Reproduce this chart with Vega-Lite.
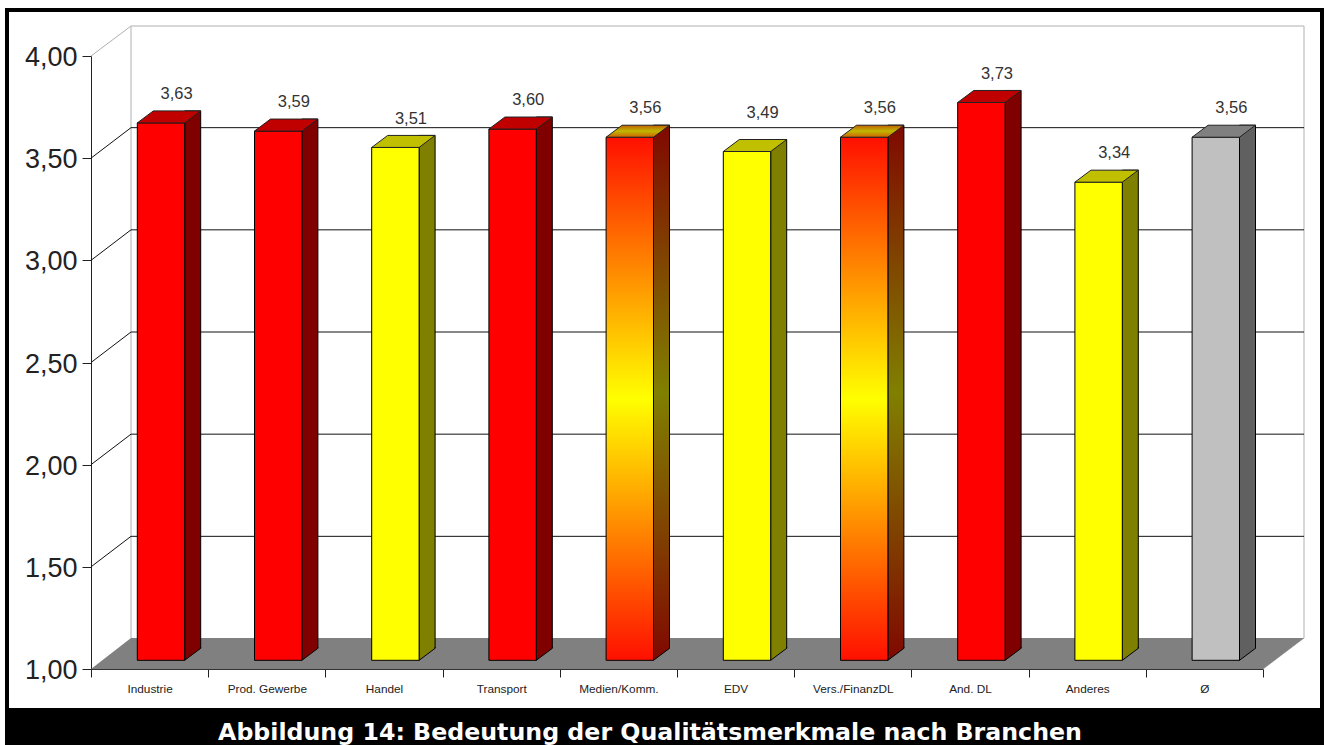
{
"$schema":"https://vega.github.io/schema/vega-lite/v6.json",
"width":1172,"height":613,
"autosize":{"type":"none"},
"padding":{"left":91,"top":56,"right":66,"bottom":76},
"background":"white",
"config":{"view":{"stroke":null},"font":"Liberation Sans","locale":{"number":{"decimal":",","thousands":".","grouping":[3],"currency":["","€"]}}},
"datasets":{
"bars":[
{"branche":"Industrie","wert":3.63,"klasse":"rot"},
{"branche":"Prod. Gewerbe","wert":3.59,"klasse":"rot"},
{"branche":"Handel","wert":3.51,"klasse":"gelb"},
{"branche":"Transport","wert":3.60,"klasse":"rot"},
{"branche":"Medien/Komm.","wert":3.56,"klasse":"verlauf"},
{"branche":"EDV","wert":3.49,"klasse":"gelb"},
{"branche":"Vers./FinanzDL","wert":3.56,"klasse":"verlauf"},
{"branche":"And. DL","wert":3.73,"klasse":"rot"},
{"branche":"Anderes","wert":3.34,"klasse":"gelb"},
{"branche":"Ø","wert":3.56,"klasse":"mittel"}],
"raster":[{"wert":1.5},{"wert":2},{"wert":2.5},{"wert":3},{"wert":3.5}],
"eins":[{"wert":1}]
},
"encoding":{
"x":{"field":"branche","type":"nominal","sort":null,"scale":{"paddingInner":0,"paddingOuter":0,"domain":["Industrie","Prod. Gewerbe","Handel","Transport","Medien/Komm.","EDV","Vers./FinanzDL","And. DL","Anderes","Ø"]},
"axis":{"title":null,"labelAngle":0,"labelFontSize":11.8,"labelFont":"Liberation Sans","labelColor":"#222","tickBand":"extent","tickSize":8,"tickColor":"#222","domainColor":"#333","labelPadding":11,"labelBaseline":"middle","grid":false}},
"y":{"field":"wert","type":"quantitative","scale":{"domain":[1,4],"zero":false,"nice":false},
"axis":{"title":null,"values":[1,1.5,2,2.5,3,3.5,4],"format":".2f","labelFontSize":27,"labelFont":"Liberation Sans","labelColor":"#222","labelOffset":1.5,"tickSize":9,"tickColor":"#222","domainColor":"#222","labelPadding":5,"grid":false}}
},
"layer":[
{"data":{"name":"eins"},"encoding":{"x":{"value":586}},"mark":{"type":"point","filled":false,"opacity":1,"size":4,"stroke":"#b0b0b0","strokeWidth":1,"shape":"M-586,-613L-546,-643L627,-643L627,-31L586,0M-546,-643L-546,-31"}},
{"data":{"name":"eins"},"encoding":{"x":{"value":586}},"mark":{"type":"point","filled":true,"opacity":1,"size":4,"fill":"#808080","stroke":null,"shape":"M-586,0L-546,-31L627,-31L586,0Z"}},
{"data":{"name":"raster"},"encoding":{"x":{"value":586}},"mark":{"type":"point","filled":false,"opacity":1,"size":4,"stroke":"#111","strokeWidth":1,"shape":"M-586,0L-546,-30.5L627,-30.5"}},
{"data":{"name":"bars"},"transform":[{"filter":"datum.klasse!='verlauf'"}],
"mark":{"type":"bar","width":16,"xOffset":43.1,"yOffset":-20.7,"y2Offset":-8.7,"stroke":"black","strokeWidth":1},
"encoding":{"y2":{"datum":1},"color":{"field":"klasse","type":"nominal","legend":null,"scale":{"domain":["rot","gelb","mittel"],"range":["#800000","#808000","#606060"]}}}},
{"data":{"name":"bars"},"transform":[{"filter":"datum.klasse=='verlauf'"}],
"mark":{"type":"bar","width":16,"xOffset":43.1,"yOffset":-20.7,"y2Offset":-8.7,"stroke":"black","strokeWidth":1,
"fill":{"gradient":"linear","x1":0,"y1":0,"x2":0,"y2":1,"stops":[{"offset":0,"color":"#800800"},{"offset":0.5,"color":"#808000"},{"offset":1,"color":"#800800"}]}},
"encoding":{"y2":{"datum":1}}},
{"data":{"name":"bars"},"encoding":{"y":{"datum":1}},"mark":{"type":"point","filled":true,"opacity":1,"size":4,"fill":"#808080","stroke":null,"shape":"M35.1,-7.7L53,-7.7L53,-22L35.1,-8.7Z"}},
{"data":{"name":"bars"},"encoding":{"y":{"datum":1}},"mark":{"type":"point","filled":false,"opacity":1,"size":4,"stroke":"black","strokeWidth":1,"shape":"M35.1,-8.7L51.1,-20.7L51.1,-22"}},
{"data":{"name":"bars"},"transform":[{"filter":"datum.klasse!='verlauf'"}],
"mark":{"type":"bar","width":47.4,"xOffset":11.4,"yOffset":-8.7,"y2Offset":-8.7,"stroke":"black","strokeWidth":1},
"encoding":{"y2":{"datum":1},"color":{"field":"klasse","type":"nominal","legend":null,"scale":{"domain":["rot","gelb","mittel"],"range":["#ff0000","#ffff00","#c0c0c0"]}}}},
{"data":{"name":"bars"},"transform":[{"filter":"datum.klasse=='verlauf'"}],
"mark":{"type":"bar","width":47.4,"xOffset":11.4,"yOffset":-8.7,"y2Offset":-8.7,"stroke":"black","strokeWidth":1,
"fill":{"gradient":"linear","x1":0,"y1":0,"x2":0,"y2":1,"stops":[{"offset":0,"color":"#ff1000"},{"offset":0.5,"color":"#ffff00"},{"offset":1,"color":"#ff1000"}]}},
"encoding":{"y2":{"datum":1}}},
{"data":{"name":"bars"},"transform":[{"filter":"datum.klasse!='verlauf'"}],
"mark":{"type":"point","filled":true,"opacity":1,"size":4,"stroke":"#222","strokeWidth":1,"shape":"M-12.3,-8.7L35.1,-8.7L51.1,-20.7L3.7,-20.7Z"},
"encoding":{"color":{"field":"klasse","type":"nominal","legend":null,"scale":{"domain":["rot","gelb","mittel"],"range":["#c00000","#c0c000","#808080"]}}}},
{"data":{"name":"bars"},"transform":[{"filter":"datum.klasse=='verlauf'"}],
"mark":{"type":"point","filled":true,"opacity":1,"size":4,"stroke":"#222","strokeWidth":1,"shape":"M-12.3,-8.7L35.1,-8.7L51.1,-20.7L3.7,-20.7Z",
"fill":{"gradient":"linear","x1":0,"y1":0,"x2":0,"y2":1,"stops":[{"offset":0,"color":"#c06000"},{"offset":0.5,"color":"#c0b800"},{"offset":1,"color":"#d06000"}]}}},
{"data":{"name":"bars"},"transform":[{"filter":"datum.branche!='EDV'"}],
"mark":{"type":"text","font":"Liberation Sans","fontSize":16.5,"color":"#333","dx":27,"dy":-37.5,"baseline":"middle","align":"center"},
"encoding":{"text":{"field":"wert","type":"quantitative","format":".2f"}}},
{"data":{"name":"bars"},"transform":[{"filter":"datum.branche=='EDV'"}],
"mark":{"type":"text","font":"Liberation Sans","fontSize":16.5,"color":"#333","dx":27,"dy":-47.5,"baseline":"middle","align":"center"},
"encoding":{"text":{"field":"wert","type":"quantitative","format":".2f"}}},
{"data":{"name":"eins"},"encoding":{"x":{"value":586}},"mark":{"type":"point","filled":true,"opacity":1,"size":4,"fill":"black","stroke":null,"shape":"M-672,-661L647,-661L647,80L-672,80ZM-668,-657L-668,39L643,39L643,-657Z"}},
{"data":{"values":[{"wert":1,"titel":"Abbildung 14: Bedeutung der Qualitätsmerkmale nach Branchen"}]},"encoding":{"x":{"value":586},"text":{"field":"titel"}},
"mark":{"type":"text","font":"DejaVu Sans","fontWeight":"bold","fontSize":23.7,"color":"white","dx":-27,"dy":70.5,"align":"center","baseline":"alphabetic"}}
],
"resolve":{"scale":{"color":"independent"}}
}
